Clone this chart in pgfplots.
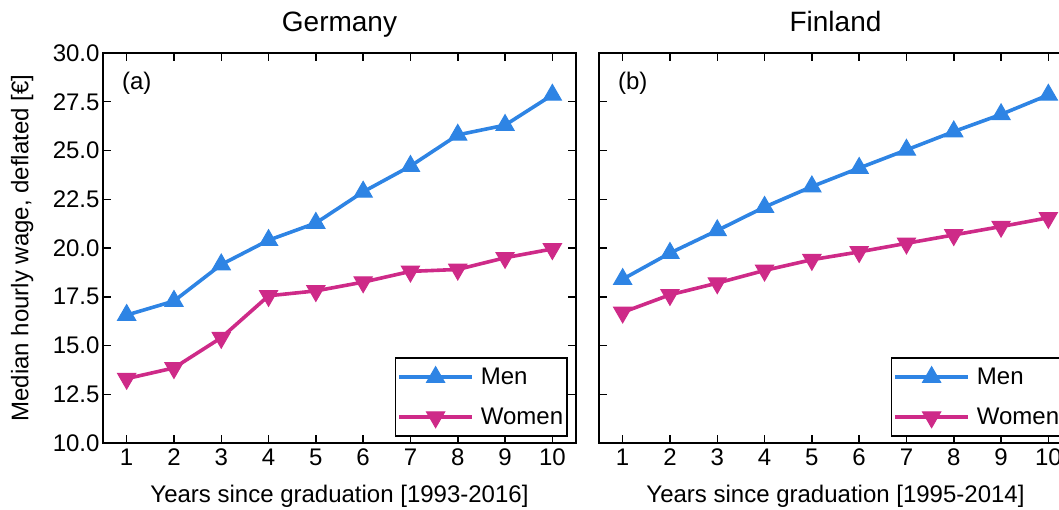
\documentclass[border=0pt]{standalone}
\usepackage{fontspec}
\setmainfont{Liberation Sans}
\usepackage{pgfplots}
\pgfplotsset{compat=1.18}
\definecolor{menblue}{RGB}{46,132,228}
\definecolor{womenpink}{RGB}{206,42,136}

\pgfplotsset{
 myax/.style={
  scale only axis, width=473pt, height=390pt,
  xmin=0.5, xmax=10.5, ymin=10, ymax=30,
  xtick={1,2,...,10}, ytick={10,12.5,15,17.5,20,22.5,25,27.5,30},
  tick align=inside, major tick length=8pt,
  axis line style={line width=1.8pt},
  every tick/.style={line width=1.5pt, black},
  tick label style={font=\fontsize{24}{24}\selectfont},
  xticklabel style={yshift=-2pt},
  every axis y label/.style={at={(axis description cs:-0.171,0.5)}, anchor=center, rotate=90, font=\fontsize{24}{24}\selectfont},
  every axis x label/.style={at={(axis description cs:0.5,0)}, anchor=base, yshift=-59pt, font=\fontsize{24}{24}\selectfont},
  title style={font=\fontsize{28}{28}\selectfont, anchor=base, yshift=15pt},
  /pgf/number format/assume math mode=true,
  yticklabel style={/pgf/number format/fixed, /pgf/number format/fixed zerofill, /pgf/number format/precision=1},
  legend style={at={(0.983,0.0154)}, anchor=south east, draw=black, line width=1.6pt,
     font=\fontsize{24}{24}\selectfont, row sep=18pt, inner xsep=2pt, inner ysep=8pt,
     nodes={inner sep=2pt},
     /tikz/every odd column/.append style={column sep=5pt}},
  legend cell align=left,
  legend image code/.code={\draw[mark repeat=2,mark phase=2,##1] plot coordinates {(0pt,0pt)(36.5pt,0pt)(73pt,0pt)};},
 },
 men/.style={color=menblue, line width=3.6pt, mark=triangle*, mark size=10.5pt, mark options={solid, line width=1pt}},
 women/.style={color=womenpink, line width=3.6pt, mark=triangle*, mark size=10.5pt, mark options={solid, line width=1pt, rotate=180}},
}

\begin{document}
\begin{tikzpicture}
\useasboundingbox (-103pt,-66pt) rectangle (956pt,443pt);
\clip (-103pt,-66pt) rectangle (956pt,443pt);
\begin{axis}[myax, name=A, at={(0pt,0pt)}, anchor=south west,
  title={Germany},
  xlabel={Years since graduation [1993-2016]},
  ylabel={Median hourly wage, deflated [€]}]
\addplot[men] coordinates {(1,16.56)(2,17.28)(3,19.15)(4,20.4)(5,21.28)(6,22.88)(7,24.2)(8,25.8)(9,26.3)(10,27.85)};
\addlegendentry{Men}
\addplot[women] coordinates {(1,13.3)(2,13.85)(3,15.4)(4,17.55)(5,17.8)(6,18.25)(7,18.8)(8,18.9)(9,19.5)(10,19.95)};
\addlegendentry{Women}
\node[anchor=west, inner sep=0pt, font=\fontsize{24}{24}\selectfont] at (rel axis cs:0.04,0.923) {(a)};
\end{axis}
\begin{axis}[myax, name=B, at={(496pt,0pt)}, anchor=south west,
  title={Finland},
  xlabel={Years since graduation [1995-2014]},
  yticklabels={}]
\addplot[men] coordinates {(1,18.4)(2,19.74)(3,20.9)(4,22.1)(5,23.15)(6,24.1)(7,25.03)(8,25.97)(9,26.85)(10,27.85)};
\addlegendentry{Men}
\addplot[women] coordinates {(1,16.7)(2,17.6)(3,18.2)(4,18.85)(5,19.4)(6,19.8)(7,20.24)(8,20.67)(9,21.1)(10,21.55)};
\addlegendentry{Women}
\node[anchor=west, inner sep=0pt, font=\fontsize{24}{24}\selectfont] at (rel axis cs:0.04,0.923) {(b)};
\end{axis}
\end{tikzpicture}
\end{document}
